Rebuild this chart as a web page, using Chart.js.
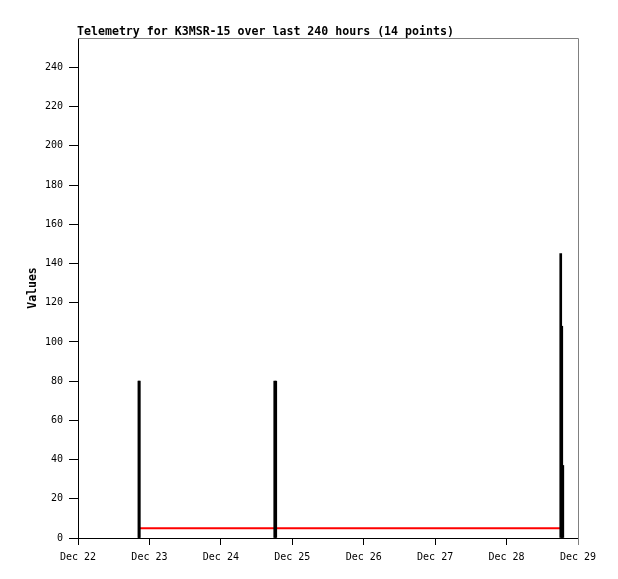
<!DOCTYPE html>
<html>
<head>
<meta charset="utf-8">
<script src="https://cdn.jsdelivr.net/npm/chart.js@4.4.1/dist/chart.umd.min.js"></script>
<style>
  html, body { margin: 0; padding: 0; background: #fff; }
  #wrap { width: 618px; height: 579px; }
</style>
</head>
<body>
<div id="wrap"><canvas id="telemetryChart" width="618" height="579"></canvas></div>
<script>
// Chart data (hours counted from Dec 22 00:00)
const chartTitle = "Telemetry for K3MSR-15 over last 240 hours (14 points)";
const dayLabels = ["Dec 22", "Dec 23", "Dec 24", "Dec 25", "Dec 26", "Dec 27", "Dec 28", "Dec 29"];
const yTicks = [0, 20, 40, 60, 80, 100, 120, 140, 160, 180, 200, 220, 240];
const pointHours = [20.5, 20.55, 66.1, 66.45, 162.2, 162.55, 162.9];
const pointValues = [80, 80, 80, 80, 145, 108, 37];
const refHours = [20.5, 66.1, 66.45, 162.2];
const refValues = [5, 5, 5, 5];

// Title and frame drawn around the plot area
const framePlugin = {
  id: 'frame',
  beforeDatasetsDraw(chart) {
    const { ctx, chartArea: a } = chart;
    ctx.save();
    ctx.strokeStyle = '#808080';
    ctx.lineWidth = 1;
    ctx.beginPath();
    ctx.moveTo(a.left, a.top + 0.5);
    ctx.lineTo(a.right + 0.5, a.top + 0.5);
    ctx.lineTo(a.right + 0.5, a.bottom + 7);
    ctx.stroke();
    ctx.restore();
  },
  afterDraw(chart) {
    const { ctx, chartArea: a } = chart;
    ctx.save();
    ctx.fillStyle = '#000';
    ctx.font = 'bold 11.6px "DejaVu Sans Mono", monospace';
    ctx.textBaseline = 'alphabetic';
    ctx.textAlign = 'left';
    ctx.fillText(chartTitle, a.left - 1, 35);
    ctx.restore();
  }
};

const ctx = document.getElementById('telemetryChart').getContext('2d');
new Chart(ctx, {
  type: 'bar',
  data: {
    datasets: [
      {
        type: 'bar',
        label: 'Values',
        data: pointHours.map((h, i) => ({ x: h, y: pointValues[i] })),
        backgroundColor: '#000',
        borderWidth: 0,
        barThickness: 2,
        order: 1
      },
      {
        type: 'line',
        label: 'Reference',
        data: refHours.map((h, i) => ({ x: h, y: refValues[i] })),
        borderColor: '#ff0000',
        borderWidth: 2,
        pointRadius: 0,
        tension: 0,
        fill: false,
        order: 2
      }
    ]
  },
  options: {
    responsive: false,
    animation: false,
    layout: { padding: { left: 26, right: 40, top: 38, bottom: 0 } },
    plugins: {
      legend: { display: false },
      tooltip: { enabled: false }
    },
    scales: {
      x: {
        type: 'linear',
        min: 0,
        max: 168,
        offset: false,
        afterFit: s => { s.height = 41; },
        grid: { drawOnChartArea: false, offset: false, color: '#000', tickLength: 7 },
        border: { color: '#000', width: 1 },
        ticks: {
          stepSize: 24,
          autoSkip: false,
          maxRotation: 0,
          padding: 6,
          color: '#000',
          font: { family: '"DejaVu Sans Mono", monospace', size: 10 },
          callback: v => dayLabels[Math.round(v / 24)]
        }
      },
      y: {
        min: 0,
        max: 255,
        afterFit: s => { s.width = 52; },
        afterBuildTicks: s => { s.ticks = yTicks.map(v => ({ value: v })); },
        grid: { drawOnChartArea: false, color: '#000', tickLength: 9 },
        border: { color: '#000', width: 1 },
        title: {
          display: true,
          text: 'Values',
          color: '#000',
          padding: { top: 0, bottom: 0 },
          font: { family: '"DejaVu Sans Mono", monospace', size: 11.5, weight: 'bold' }
        },
        ticks: {
          padding: 6,
          color: '#000',
          font: { family: '"DejaVu Sans Mono", monospace', size: 10 }
        }
      }
    }
  },
  plugins: [framePlugin]
});
</script>
</body>
</html>
